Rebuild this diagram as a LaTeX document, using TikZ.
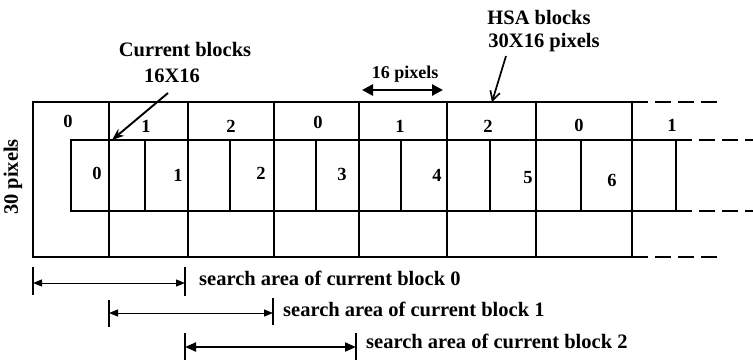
\documentclass[tikz,border=0pt]{standalone}
\usepackage{fontspec}
\setmainfont{Liberation Serif}
\usetikzlibrary{arrows.meta}
\begin{document}
\begin{tikzpicture}[x=1pt,y=-1pt,
  grid/.style={line width=1.9pt},
  dashline/.style={line width=1.9pt,dash pattern=on 16pt off 7pt},
  lbl/.style={font=\fontsize{18.5}{18.5}\selectfont\bfseries,inner sep=0pt},
  head/.style={font=\fontsize{20.5}{20.5}\selectfont\bfseries,inner sep=0pt},
  stxt/.style={font=\fontsize{20.5}{20.5}\selectfont\bfseries,inner sep=0pt,anchor=west},
  bar/.style={line width=1.8pt},
  thinarr/.style={line width=1pt,{Triangle[length=9pt,width=7pt]}-{Triangle[length=9pt,width=7pt]}},
  thickarr/.style={line width=2pt,{Triangle[length=11pt,width=9pt]}-{Triangle[length=11pt,width=9pt]}}]
\useasboundingbox (0,0) rectangle (753,360);
% outer HSA row
\draw[grid] (33,102) rectangle (632,257);
\foreach \x in {109,188,274,359,447,536}
  \draw[grid] (\x,102) -- (\x,257);
% inner current block row
\draw[grid] (71,140) -- (676,140) -- (676,211) -- (71,211) -- cycle;
\foreach \x in {145,230,316,401,490,581}
  \draw[grid] (\x,140) -- (\x,211);
% dashed continuations
\draw[dashline] (632,102) -- (718,102);
\draw[dashline] (632,257) -- (718,257);
\draw[dashline] (676,140) -- (753,140);
\draw[dashline] (676,211) -- (753,211);
% top row labels
\node[lbl] (h0) at (68,121) {0};
\node[lbl] (h1) at (146,126) {1};
\node[lbl] (h2) at (231,126) {2};
\node[lbl] (h3) at (318,122) {0};
\node[lbl] (h4) at (400,126) {1};
\node[lbl] (h5) at (488,126) {2};
\node[lbl] (h6) at (579,125) {0};
\node[lbl] (h7) at (672,125) {1};
% current block labels
\node[lbl] (c0) at (97,173) {0};
\node[lbl] (c1) at (178,175) {1};
\node[lbl] (c2) at (261,173) {2};
\node[lbl] (c3) at (342,174) {3};
\node[lbl] (c4) at (437,175) {4};
\node[lbl] (c5) at (528,178) {5};
\node[lbl] (c6) at (612,180) {6};
% side label
\node[head,rotate=90] (side) at (13,177) {30 pixels};
% current blocks annotation
\node[head] (cb) at (185,50) {Current blocks};
\node[head] (cbs) at (172,76) {16X16};
\coordinate (cbtip) at (112,140);
\draw[line width=1.9pt,-{Stealth[length=12pt,width=9pt]}] (168,93) -- (cbtip);
% HSA annotation
\node[head] (hsa) at (539,17) {HSA blocks};
\node[head] (hsas) at (544,43) {30X16 pixels};
\coordinate (hsatip) at (492,102);
\draw[line width=1.7pt,-{Straight Barb[length=9pt,width=10pt]}] (506,56) -- (hsatip);
% 16 pixels
\node[font=\fontsize{18}{18}\selectfont\bfseries,inner sep=0pt] (px) at (405,74) {16 pixels};
\coordinate (pxl) at (362,90);
\coordinate (pxr) at (443,90);
\draw[line width=2.6pt,{Triangle[length=11pt,width=11pt]}-{Triangle[length=11pt,width=11pt]}] (pxl) -- (pxr);
% search areas
\coordinate (a0l) at (33,283); \coordinate (a0r) at (185,283);
\draw[bar] (33,267) -- (33,295);
\draw[bar] (185,267) -- (185,296);
\draw[thinarr] (a0l) -- (a0r);
\node[stxt] (s0) at (199,278) {search area of current block 0};
\coordinate (a1l) at (109,313); \coordinate (a1r) at (273,313);
\draw[bar] (109,300) -- (109,327);
\draw[bar] (273,298) -- (273,325);
\draw[thinarr] (a1l) -- (a1r);
\node[stxt] (s1) at (283,309) {search area of current block 1};
\coordinate (a2l) at (185,347); \coordinate (a2r) at (356,347);
\draw[bar] (185,333) -- (185,360);
\draw[bar] (356,333) -- (356,360);
\draw[thickarr] (a2l) -- (a2r);
\node[stxt] (s2) at (366,341) {search area of current block 2};
\end{tikzpicture}
\end{document}
